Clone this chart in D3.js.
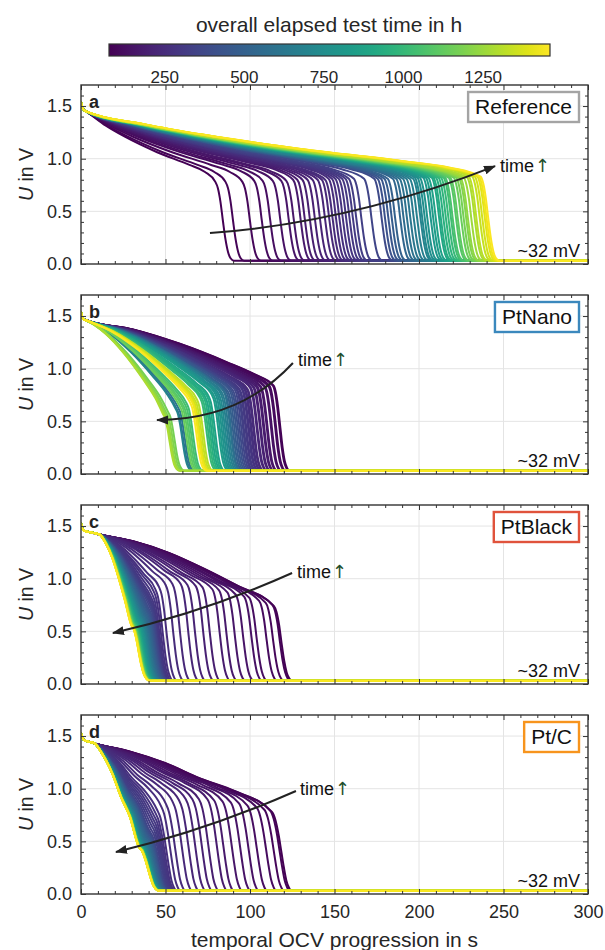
<!DOCTYPE html>
<html>
<head>
<meta charset="utf-8">
<script src="https://cdn.jsdelivr.net/npm/d3@7"></script>
<style>
  body { margin: 0; background: #fff; }
  svg { display: block; font-family: "Liberation Sans", Arial, Helvetica, sans-serif; }
</style>
</head>
<body>
<svg id="chart" width="605" height="950"></svg>
<script>
// ---------------------------------------------------------------------------
// Data
// ---------------------------------------------------------------------------

// Overall elapsed test time (h) at which each OCV recording was taken.
const elapsedHours = [
  80, 91, 102, 113, 124, 135, 146, 157, 168, 179, 190, 201, 212, 223, 234, 245,
  256, 267, 278, 289, 300, 311, 322, 334,
  360, 388, 416, 444, 472, 500, 528, 556,
  584, 612, 640, 668, 696,
  724, 752, 780, 808, 836, 864, 892,
  920, 948, 976, 1004, 1032, 1060, 1088,
  1116, 1144, 1172, 1200, 1228, 1256, 1284,
  1312, 1340, 1368, 1396, 1424, 1452
];

// Knee of every OCV curve: time (s) and voltage (V) where the steep drop starts.
const referenceKneeT = [
  79.5, 85.5, 95.5, 102.5, 107.5, 113.5, 118.5, 121.5, 125.5, 128, 131, 134, 137, 140, 142.5, 144.5,
  146.5, 148.5, 150.5, 152.5, 154.5, 156.5, 158.5, 161.5,
  167.5, 173.5, 175.5, 177.5, 179.5, 181.5, 184.5, 186.5,
  188.5, 190.5, 192.5, 194.5, 196.5,
  197.5, 199, 200.5, 202.5, 204, 205.5, 207.5,
  208.5, 210, 211.5, 213, 214.5, 215.5, 217.5,
  218.5, 220.5, 222, 223.5, 224.5, 226.5, 228.5,
  229.5, 231.5, 233, 234.5, 235.5, 236.5
];
const referenceKneeV = [
  0.78, 0.78, 0.78, 0.79, 0.79, 0.79, 0.79, 0.79, 0.8, 0.8, 0.8, 0.8, 0.8, 0.8, 0.8, 0.8,
  0.81, 0.81, 0.81, 0.81, 0.81, 0.81, 0.81, 0.81,
  0.81, 0.81, 0.81, 0.81, 0.81, 0.81, 0.81, 0.81,
  0.81, 0.81, 0.81, 0.81, 0.81,
  0.82, 0.82, 0.82, 0.82, 0.82, 0.82, 0.82,
  0.82, 0.82, 0.82, 0.82, 0.82, 0.82, 0.82,
  0.82, 0.82, 0.82, 0.82, 0.82, 0.82, 0.82,
  0.83, 0.83, 0.83, 0.83, 0.83, 0.83
];

const ptNanoKneeT = [
  114, 113.5, 111.5, 111, 109, 108.5, 106.5, 106, 104.5, 104, 102.5, 102, 100.5, 100, 98.5, 98,
  97, 96.5, 95.5, 95, 94, 93.5, 92.5, 92,
  91, 90, 89, 88, 87, 86, 85, 56.5,
  84.5, 57.5, 83.5, 82.5, 56,
  81.5, 80.5, 79.5, 78.5, 77.5, 75.5, 73.5,
  74.5, 72.5, 71.5, 70.5, 62.5, 61.5, 60.5,
  59.5, 58.5, 51.5, 50.5, 49.5, 49, 48.5,
  68.5, 67.5, 66.5, 66, 65.5, 64.5
];
const ptNanoKneeV = [
  0.84, 0.84, 0.84, 0.83, 0.83, 0.83, 0.83, 0.83, 0.83, 0.82, 0.82, 0.82, 0.82, 0.82, 0.81, 0.81,
  0.81, 0.81, 0.81, 0.81, 0.8, 0.8, 0.8, 0.8,
  0.8, 0.79, 0.79, 0.79, 0.78, 0.78, 0.78, 0.62,
  0.78, 0.63, 0.77, 0.77, 0.62,
  0.76, 0.76, 0.76, 0.75, 0.75, 0.74, 0.73,
  0.74, 0.73, 0.72, 0.72, 0.67, 0.66, 0.65,
  0.65, 0.64, 0.59, 0.58, 0.58, 0.57, 0.57,
  0.71, 0.7, 0.7, 0.69, 0.69, 0.68
];

const ptBlackKneeT = [
  114.2, 113.3, 109.3, 105.4, 99.5, 96.5, 91.5, 86.6, 81.7, 77.7, 71.8, 67.9, 63, 59, 54.1, 50.1,
  46.2, 44, 43, 42.2, 41.6, 41.2, 41, 40.8,
  40.5, 40, 39.5, 39, 38.5, 38, 37.5, 37,
  36.5, 36, 35.6, 35.2, 34.8,
  34.4, 34, 33.6, 33.2, 32.8, 32.5, 32.2,
  31.9, 31.6, 31.4, 31.2, 31, 30.8, 30.6,
  30.5, 30.4, 30.3, 30.2, 30.1, 30, 30,
  30, 29.9, 29.9, 29.8, 29.8, 29.7
];
const ptBlackKneeV = [
  0.74, 0.75, 0.77, 0.79, 0.82, 0.83, 0.85, 0.87, 0.89, 0.9, 0.92, 0.93, 0.94, 0.95, 0.95, 0.94,
  0.92, 0.9, 0.88, 0.85, 0.82, 0.8, 0.78, 0.76,
  0.74, 0.72, 0.71, 0.7, 0.69, 0.68, 0.67, 0.66,
  0.65, 0.65, 0.64, 0.64, 0.63,
  0.63, 0.62, 0.62, 0.61, 0.61, 0.6, 0.6,
  0.6, 0.59, 0.59, 0.59, 0.58, 0.58, 0.58,
  0.58, 0.57, 0.57, 0.57, 0.57, 0.57, 0.57,
  0.57, 0.57, 0.56, 0.56, 0.56, 0.56
];

const ptCKneeT = [
  113, 112, 108.5, 104, 98.5, 93.5, 88.6, 83.7, 78.7, 74.8, 69.8, 65.9, 62, 58, 54.1, 50.1,
  47.2, 45, 44, 43.3, 42.7, 42.2, 41.7, 41.2,
  40.5, 40, 39.6, 39.2, 38.8, 38.4, 38, 37.6,
  37.2, 36.9, 36.6, 36.3, 36,
  35.8, 35.6, 35.4, 35.2, 35, 34.9, 34.8,
  34.7, 34.6, 34.6, 34.5, 34.5, 34.4, 34.4,
  34.4, 34.3, 34.3, 34.3, 34.2, 34.2, 34.2,
  34.3, 34.3, 34.2, 34.2, 34.1, 34.1
];
const ptCKneeV = [
  0.78, 0.79, 0.8, 0.82, 0.84, 0.86, 0.87, 0.88, 0.89, 0.9, 0.9, 0.9, 0.9, 0.89, 0.88, 0.86,
  0.84, 0.8, 0.77, 0.74, 0.71, 0.68, 0.65, 0.62,
  0.6, 0.59, 0.58, 0.57, 0.56, 0.55, 0.54, 0.53,
  0.52, 0.51, 0.5, 0.5, 0.49,
  0.49, 0.48, 0.48, 0.47, 0.47, 0.47, 0.46,
  0.46, 0.46, 0.46, 0.46, 0.46, 0.46, 0.46,
  0.45, 0.45, 0.45, 0.45, 0.45, 0.45, 0.45,
  0.45, 0.45, 0.45, 0.45, 0.45, 0.45
];

// Shared curve shape of each catalyst: start-up points [t, V], the normalised
// decline towards the knee, and the drop after the knee down to the floor.
const referenceOnset = [[0, 1.54], [0.7, 1.49], [1.5, 1.465], [3, 1.45]];
const referenceDeclineS = [0, 0.15, 0.3, 0.55, 0.8, 0.92, 1];
const referenceDeclineU = [1, 0.8, 0.64, 0.42, 0.24, 0.14, 0];
const referenceDropT = [0, 1.5, 3, 4.5, 6, 7.5, 9, 11];
const referenceDropF = [1, 0.92, 0.75, 0.5, 0.27, 0.11, 0.03, 0];

const ptNanoOnset = [[0, 1.54], [0.7, 1.49], [1.5, 1.47], [3, 1.46]];
const ptNanoDeclineS = [0, 0.25, 0.5, 0.75, 0.9, 1];
const ptNanoDeclineU = [1, 0.86, 0.64, 0.36, 0.17, 0];
const ptNanoDropT = [0, 1.3, 2.6, 4, 5.3, 6.6, 8, 9.5];
const ptNanoDropF = [1, 0.92, 0.75, 0.5, 0.27, 0.11, 0.03, 0];

const ptBlackOnset = [[0, 1.53], [0.7, 1.48], [2, 1.455], [6, 1.44], [11, 1.42]];
const ptBlackDeclineS = [0, 0.2, 0.4, 0.6, 0.8, 1];
const ptBlackDeclineU = [1, 0.9, 0.74, 0.52, 0.27, 0];
const ptBlackDropT = [0, 1.5, 3, 4.5, 6, 7.5, 9, 10.5];
const ptBlackDropF = [1, 0.92, 0.75, 0.5, 0.27, 0.11, 0.03, 0];

const ptCOnset = [[0, 1.53], [0.7, 1.49], [2, 1.46], [5, 1.445], [8, 1.43]];
const ptCDeclineS = [0, 0.2, 0.4, 0.6, 0.8, 1];
const ptCDeclineU = [1, 0.88, 0.71, 0.48, 0.29, 0];
const ptCDropT = [0, 2, 4, 5.5, 7, 8.5, 10, 11.5];
const ptCDropF = [1, 0.9, 0.7, 0.5, 0.3, 0.13, 0.04, 0];

const floorVoltage = 0.032;   // cell voltage after the drop (~32 mV)
const endTime = 300;          // s, end of each OCV recording

// Axes and colour bar
const timeDomain = [75, 1460];
const colorbarTicks = [250, 500, 750, 1000, 1250];
const xMajorTicks = [0, 50, 100, 150, 200, 250, 300];
const xMinorTicks = d3.range(0, 301, 10);
const yMajorTicks = [0, 0.5, 1.0, 1.5];
const yMinorTicks = d3.range(0, 17).map(i => i / 10);
const xDomain = [0, 300];
const yDomain = [0, 1.7];

const panelNames = ["Reference", "PtNano", "PtBlack", "Pt/C"];
const panelLetters = ["a", "b", "c", "d"];

// "time" arrows: start, control, end [t, V] and label anchor [t, V]
const arrowStarts = [[76.3, 0.294], [125.4, 1.054], [124.9, 1.054], [127.2, 0.978]];
const arrowControls = [[160, 0.394], [94.1, 0.513], [73.4, 0.684], [74, 0.603]];
const arrowEnds = [[245, 0.93], [45, 0.513], [18.9, 0.484], [20.7, 0.399]];
const arrowLabels = [[247.9, 0.93], [128.4, 1.083], [127.8, 1.064], [129.6, 0.997]];

// ---------------------------------------------------------------------------
// Layout and styles
// ---------------------------------------------------------------------------
const svg = d3.select("#chart");
const plotLeft = 81, plotRight = 588, panelHeight = 179;
const panelTops = [85, 295, 505, 715];
const boxColors = ["#a4a4a4", "#3b88bd", "#e0533c", "#f7941d"];
const axisColor = "#333333";
const gridColor = "#e4e4e4";
const textColor = "#262626";

const panels = [
  { kneeT: referenceKneeT, kneeV: referenceKneeV, onset: referenceOnset, declineS: referenceDeclineS,
    declineU: referenceDeclineU, dropT: referenceDropT, dropF: referenceDropF },
  { kneeT: ptNanoKneeT, kneeV: ptNanoKneeV, onset: ptNanoOnset, declineS: ptNanoDeclineS,
    declineU: ptNanoDeclineU, dropT: ptNanoDropT, dropF: ptNanoDropF },
  { kneeT: ptBlackKneeT, kneeV: ptBlackKneeV, onset: ptBlackOnset, declineS: ptBlackDeclineS,
    declineU: ptBlackDeclineU, dropT: ptBlackDropT, dropF: ptBlackDropF },
  { kneeT: ptCKneeT, kneeV: ptCKneeV, onset: ptCOnset, declineS: ptCDeclineS,
    declineU: ptCDeclineU, dropT: ptCDropT, dropF: ptCDropF }
];

const color = d3.scaleSequential(d3.interpolateViridis).domain(timeDomain);
const x = d3.scaleLinear().domain(xDomain).range([plotLeft, plotRight]);

// Builds the [t, V] points of one OCV curve from its knee.
function ocvCurve(p, tk, vk) {
  const pts = p.onset.map(d => [d[0], d[1]]);
  const [t0, v0] = p.onset[p.onset.length - 1];
  for (let i = 1; i < p.declineS.length; i++) {
    pts.push([t0 + p.declineS[i] * (tk - t0), vk + p.declineU[i] * (v0 - vk)]);
  }
  for (let i = 1; i < p.dropT.length; i++) {
    pts.push([tk + p.dropT[i], floorVoltage + p.dropF[i] * (vk - floorVoltage)]);
  }
  pts.push([endTime, floorVoltage]);
  return pts;
}

// ---------------------------------------------------------------------------
// Colour bar
// ---------------------------------------------------------------------------
const defs = svg.append("defs");
const grad = defs.append("linearGradient").attr("id", "viridis")
  .attr("x1", "0%").attr("x2", "100%").attr("y1", "0%").attr("y2", "0%");
d3.range(0, 1.0001, 0.05).forEach(f => {
  grad.append("stop").attr("offset", `${f * 100}%`).attr("stop-color", d3.interpolateViridis(f));
});
const cbX = d3.scaleLinear().domain(timeDomain).range([109, 550]);
svg.append("text")
  .attr("x", 329).attr("y", 32).attr("text-anchor", "middle")
  .attr("font-size", 21).attr("fill", textColor)
  .text("overall elapsed test time in h");
svg.append("rect")
  .attr("x", cbX.range()[0]).attr("y", 44)
  .attr("width", cbX.range()[1] - cbX.range()[0]).attr("height", 12)
  .attr("fill", "url(#viridis)").attr("stroke", axisColor).attr("stroke-width", 1.2);
svg.append("g").selectAll("text").data(colorbarTicks).join("text")
  .attr("x", d => cbX(d)).attr("y", 83).attr("text-anchor", "middle")
  .attr("font-size", 17).attr("fill", textColor).text(d => d);

// arrow head
defs.append("marker").attr("id", "head")
  .attr("viewBox", "0 0 12 10").attr("refX", 11).attr("refY", 5)
  .attr("markerWidth", 12).attr("markerHeight", 10)
  .attr("markerUnits", "userSpaceOnUse").attr("orient", "auto")
  .append("path").attr("d", "M0,0.5 L12,5 L0,9.5 Z").attr("fill", "#222");

// ---------------------------------------------------------------------------
// Panels
// ---------------------------------------------------------------------------
panels.forEach((p, k) => {
  const top = panelTops[k], bottom = top + panelHeight;
  const y = d3.scaleLinear().domain(yDomain).range([bottom, top]);
  const g = svg.append("g");
  const isLast = k === panels.length - 1;

  // grid
  g.append("g").selectAll("line").data(xMajorTicks.slice(1, -1)).join("line")
    .attr("x1", d => x(d)).attr("x2", d => x(d)).attr("y1", top).attr("y2", bottom)
    .attr("stroke", gridColor).attr("stroke-width", 1);
  g.append("g").selectAll("line").data(yMajorTicks.slice(1)).join("line")
    .attr("x1", plotLeft).attr("x2", plotRight).attr("y1", d => y(d)).attr("y2", d => y(d))
    .attr("stroke", gridColor).attr("stroke-width", 1);

  // curves
  const clipId = `clip${k}`;
  defs.append("clipPath").attr("id", clipId).append("rect")
    .attr("x", plotLeft).attr("y", top).attr("width", plotRight - plotLeft).attr("height", panelHeight);
  const line = d3.line().x(d => x(d[0])).y(d => y(d[1])).curve(d3.curveMonotoneX);
  const curves = elapsedHours.map((h, i) => ({ h, pts: ocvCurve(p, p.kneeT[i], p.kneeV[i]) }));
  g.append("g").attr("clip-path", `url(#${clipId})`)
    .selectAll("path").data(curves).join("path")
    .attr("d", d => line(d.pts))
    .attr("fill", "none").attr("stroke", d => color(d.h))
    .attr("stroke-width", 2).attr("stroke-linejoin", "round");

  // axes: inward ticks on all four sides
  const styleAxis = sel => {
    sel.select(".domain").remove();
    sel.selectAll(".tick line").attr("stroke", axisColor).attr("stroke-width", 1);
    sel.selectAll(".tick text").attr("fill", textColor).attr("font-size", 18)
      .attr("font-family", "'Liberation Sans', Arial, sans-serif");
  };
  const xMinorOnly = xMinorTicks.filter(v => !xMajorTicks.includes(v));
  const yMinorOnly = yMinorTicks.filter(v => !yMajorTicks.some(m => Math.abs(m - v) < 1e-9));

  g.append("g").attr("transform", `translate(0,${bottom})`)
    .call(d3.axisBottom(x).tickValues(xMajorTicks).tickSize(-5).tickPadding(11)
      .tickFormat(isLast ? d3.format("d") : () => ""))
    .call(styleAxis);
  g.append("g").attr("transform", `translate(0,${bottom})`)
    .call(d3.axisBottom(x).tickValues(xMinorOnly).tickSize(-3).tickFormat(() => ""))
    .call(styleAxis);
  g.append("g").attr("transform", `translate(0,${top})`)
    .call(d3.axisTop(x).tickValues(xMajorTicks).tickSize(-5).tickFormat(() => ""))
    .call(styleAxis);
  g.append("g").attr("transform", `translate(0,${top})`)
    .call(d3.axisTop(x).tickValues(xMinorOnly).tickSize(-3).tickFormat(() => ""))
    .call(styleAxis);
  g.append("g").attr("transform", `translate(${plotLeft},0)`)
    .call(d3.axisLeft(y).tickValues(yMajorTicks).tickSize(-5).tickPadding(9).tickFormat(d3.format(".1f")))
    .call(styleAxis);
  g.append("g").attr("transform", `translate(${plotLeft},0)`)
    .call(d3.axisLeft(y).tickValues(yMinorOnly).tickSize(-3).tickFormat(() => ""))
    .call(styleAxis);
  g.append("g").attr("transform", `translate(${plotRight},0)`)
    .call(d3.axisRight(y).tickValues(yMajorTicks).tickSize(-5).tickFormat(() => ""))
    .call(styleAxis);
  g.append("g").attr("transform", `translate(${plotRight},0)`)
    .call(d3.axisRight(y).tickValues(yMinorOnly).tickSize(-3).tickFormat(() => ""))
    .call(styleAxis);

  // frame
  g.append("rect").attr("x", plotLeft).attr("y", top)
    .attr("width", plotRight - plotLeft).attr("height", panelHeight)
    .attr("fill", "none").attr("stroke", axisColor).attr("stroke-width", 1.4);

  // y label
  const yl = g.append("text")
    .attr("transform", `translate(33,${(top + bottom) / 2}) rotate(-90)`)
    .attr("text-anchor", "middle").attr("font-size", 19.5).attr("fill", textColor);
  yl.append("tspan").attr("font-style", "italic").text("U");
  yl.append("tspan").text(" in V");

  // panel letter
  g.append("text").attr("x", 89).attr("y", top + 23)
    .attr("font-size", 18).attr("font-weight", "bold").attr("fill", "#222")
    .text(panelLetters[k]);

  // name box
  const nameBox = g.append("rect");
  const nameText = g.append("text").attr("font-size", 21).attr("fill", "#111")
    .attr("text-anchor", "end").attr("x", 572).attr("y", top + 29)
    .text(panelNames[k]);
  const tw = nameText.node().getComputedTextLength();
  nameBox.attr("x", 572 - tw - 7).attr("y", top + 7)
    .attr("width", tw + 14).attr("height", 30)
    .attr("fill", "#fff").attr("stroke", boxColors[k]).attr("stroke-width", 2.4);

  // floor label
  g.append("text").attr("x", 580).attr("y", bottom - 7)
    .attr("text-anchor", "end").attr("font-size", 18).attr("fill", "#111")
    .text("~32 mV");

  // time arrow
  const path = d3.path();
  const s = arrowStarts[k], c = arrowControls[k], e = arrowEnds[k];
  path.moveTo(x(s[0]), y(s[1]));
  path.quadraticCurveTo(x(c[0]), y(c[1]), x(e[0]), y(e[1]));
  g.append("path").attr("d", path.toString())
    .attr("fill", "none").attr("stroke", "#222").attr("stroke-width", 2)
    .attr("marker-end", "url(#head)");
  const lab = g.append("text").attr("x", x(arrowLabels[k][0])).attr("y", y(arrowLabels[k][1]) + 6)
    .attr("font-size", 18).attr("fill", "#111");
  lab.append("tspan").text("time");
  lab.append("tspan").attr("fill", "#1f4d2c").attr("dx", 1)
    .attr("font-family", "'DejaVu Sans', sans-serif").attr("font-size", 18).text("↑");

  if (isLast) {
    g.append("text").attr("x", (plotLeft + plotRight) / 2).attr("y", 947)
      .attr("text-anchor", "middle").attr("font-size", 21).attr("fill", textColor)
      .text("temporal OCV progression in s");
  }
});
</script>
</body>
</html>
